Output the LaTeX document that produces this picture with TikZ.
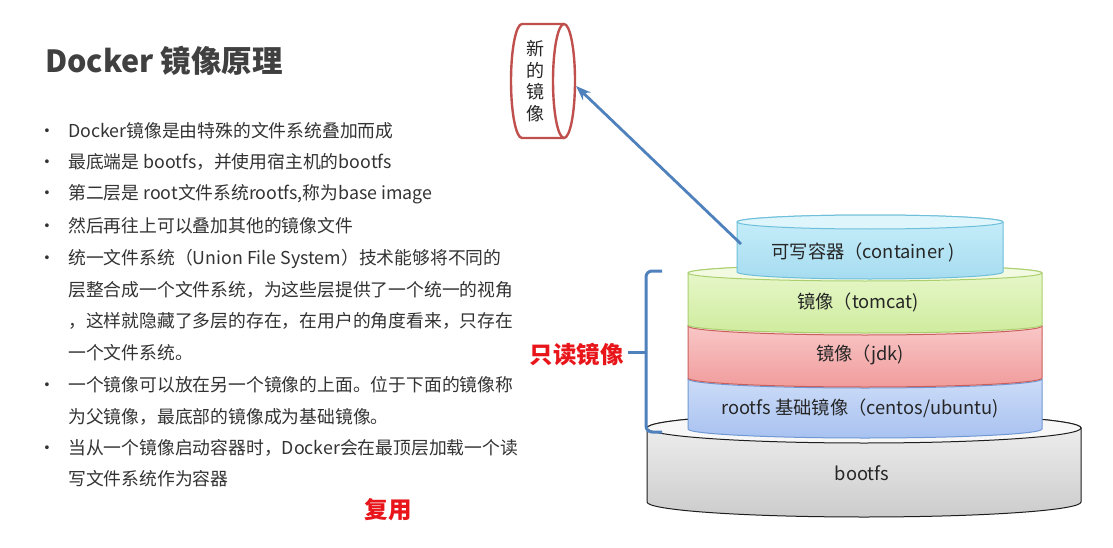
\documentclass[tikz,border=0pt]{standalone}
\usepackage{fontspec}
\setmainfont{Noto Sans CJK SC}
\usetikzlibrary{arrows.meta}
\definecolor{txt}{HTML}{333333}
\definecolor{ttl}{HTML}{404040}
\definecolor{redtxt}{HTML}{E8151B}
\definecolor{bluel}{HTML}{4F81BD}
\definecolor{newred}{HTML}{C0504D}
\definecolor{cS}{HTML}{6DBFDA}\definecolor{cT}{HTML}{C8EEFA}\definecolor{cB}{HTML}{A6DCF0}
\definecolor{tS}{HTML}{ABCF6E}\definecolor{tT}{HTML}{E9F8CE}\definecolor{tB}{HTML}{CFEC9E}
\definecolor{jS}{HTML}{C9605C}\definecolor{jT}{HTML}{FACDCD}\definecolor{jB}{HTML}{F19C9C}
\definecolor{rS}{HTML}{7098D4}\definecolor{rT}{HTML}{D2E0F9}\definecolor{rB}{HTML}{A8C2F0}
\definecolor{bS}{HTML}{1E1E1E}\definecolor{bT}{HTML}{F2F2F2}\definecolor{bB}{HTML}{CCCCCC}
\newcommand\mylayer[8]{% #1 cx, #2 ytop, #3 ybot, #4 rx, #5 ry, #6 stroke, #7 top col, #8 bottom col
  \path[draw=#6, line width=1pt, top color=#7, bottom color=#8]
    (#1-#4,#2) -- (#1-#4,#3) arc[start angle=180, end angle=360, x radius=#4pt, y radius=#5pt]
    -- (#1+#4,#2) arc[start angle=0, end angle=180, x radius=#4pt, y radius=#5pt] -- cycle;
  \path[draw=#6, line width=1pt, fill=#7!60!white] (#1,#2) ellipse[x radius=#4pt, y radius=#5pt];
}
\tikzset{
  line/.style={anchor=base west, inner sep=0pt, text=txt, font=\fontsize{17.8}{21}\selectfont},
  bul/.style={anchor=base, inner sep=0pt, text=txt, font=\fontsize{17.8}{21}\selectfont},
  lab/.style={inner sep=0pt, text=black!85, font=\fontsize{18.3}{21}\selectfont},
  redlab/.style={inner sep=0pt, text=redtxt, font=\fontsize{23.5}{27}\selectfont\bfseries},
  brace/.style={draw=bluel, line width=3pt},
  arrowline/.style={draw=bluel, line width=2.8pt, -{Stealth[length=15pt,width=11pt]}},
}
\begin{document}
\begin{tikzpicture}[x=1pt,y=-1pt]
\useasboundingbox[fill=white] (0,0) rectangle (1113,548);
% title
\node[anchor=base west, inner sep=0pt, text=ttl, font=\fontsize{30.5}{36}\selectfont\bfseries] (title) at (45,73) {Docker 镜像原理};
% bullets
\foreach \yy/\nm in {132/b1,163/b2,194/b3,226/b4,258/b5,385/b9,448/b11}
  \node[bul] (\nm) at (47,\yy+6) {•};
\node[line] (l1) at (68,138) {Docker镜像是由特殊的文件系统叠加而成};
\node[line] (l2) at (68,169) {最底端是 bootfs，并使用宿主机的bootfs};
\node[line] (l3) at (68,200) {第二层是 root文件系统rootfs,称为base image};
\node[line] (l4) at (68,232) {然后再往上可以叠加其他的镜像文件};
\node[line] (l5) at (68,264) {统一文件系统（Union File System）技术能够将不同的};
\node[line] (l6) at (68,296) {层整合成一个文件系统，为这些层提供了一个统一的视角};
\node[line] (l7) at (68,327) {，这样就隐藏了多层的存在，在用户的角度看来，只存在};
\node[line] (l8) at (68,359) {一个文件系统。};
\node[line] (l9) at (68,391) {一个镜像可以放在另一个镜像的上面。位于下面的镜像称};
\node[line] (l10) at (68,423) {为父镜像，最底部的镜像成为基础镜像。};
\node[line] (l11) at (68,454) {当从一个镜像启动容器时，Docker会在最顶层加载一个读};
\node[line] (l12) at (68,485) {写文件系统作为容器};
\node[redlab] (reuse) at (388,510) {复用};
% layers
\mylayer{864}{428}{502}{217}{15}{bS}{bT}{bB}
\mylayer{865}{379}{429}{177}{9}{rS}{rT}{rB}
\mylayer{865}{326}{378}{177}{9}{jS}{jT}{jB}
\mylayer{865}{273}{325}{177}{8}{tS}{tT}{tB}
\mylayer{870}{222}{272}{133}{7}{cS}{cT}{cB}
\node[lab] (bootfs) at (862,473) {bootfs};
\node[lab] (rootfs) at (860,408) {rootfs 基础镜像（centos/ubuntu)};
\node[lab] (jdk) at (860,355) {镜像（jdk)};
\node[lab] (tomcat) at (858,302) {镜像（tomcat)};
\node[lab] (container) at (863,252) {可写容器（container )};
% new image cylinder (horizontal)
\path[draw=newred, line width=2.4pt, fill=white]
  (564,24) -- (522,24) arc[start angle=90, end angle=270, x radius=11pt, y radius=57pt]
  -- (564,138);
\path[draw=newred, line width=2.4pt, fill=white] (564,81) ellipse[x radius=11pt, y radius=57pt];
\node[inner sep=0pt, text=black!85, font=\fontsize{18}{21.5}\selectfont, align=center] (newimg) at (535,81) {新\\的\\镜\\像};
\coordinate (newimgE) at (576,86);
\coordinate (contW) at (741,244);
\draw[arrowline] (contW) -- (newimgE);
% bracket
\coordinate (brtip) at (628,352);
\draw[brace, rounded corners=6pt] (662,271) -- (646,271) -- (646,432) -- (662,432);
\draw[brace] (brtip) -- (646,352);
\node[redlab, anchor=east] (ro) at (624,355) {只读镜像};
\end{tikzpicture}
\end{document}
